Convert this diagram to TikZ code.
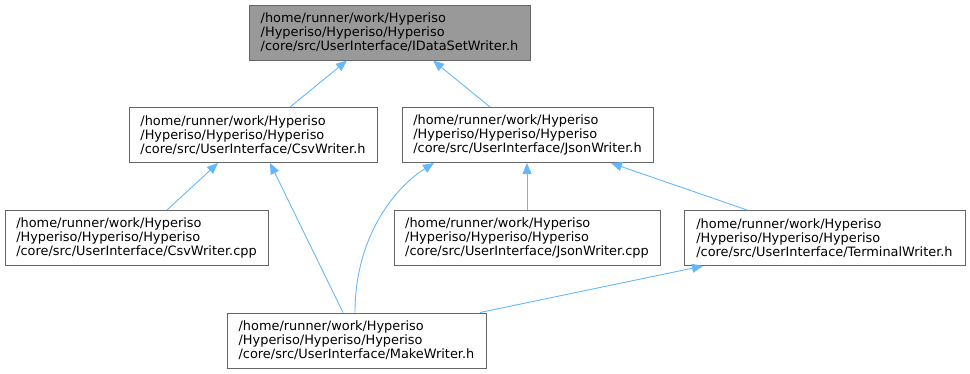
\documentclass[tikz,border=0pt]{standalone}
\usepackage{fontspec}
\setmainfont{DejaVu Sans}
\usetikzlibrary{arrows.meta}
\definecolor{edgeblue}{HTML}{63B8FF}
\definecolor{boxgrey}{HTML}{666666}
\definecolor{topfill}{HTML}{999999}
\begin{document}
\begin{tikzpicture}[x=1pt,y=-1pt,
  filebox/.style={draw=boxgrey, line width=1pt, fill=white, align=left,
    inner xsep=0pt, inner ysep=0pt, minimum height=55pt,
    font=\fontsize{12.9}{14}\selectfont},
  edge/.style={draw=edgeblue, line width=0.9pt, -{Triangle[length=11pt,width=9pt]}}]
\useasboundingbox (0,0) rectangle (970,373);

\node[filebox, fill=topfill, minimum width=281pt] (top) at (389.5,32.5)
  {/home/runner/work/Hyperiso\\/Hyperiso/Hyperiso/Hyperiso\\/core/src/UserInterface/IDataSetWriter.h};
\node[filebox, minimum width=248pt] (csvh) at (253,135)
  {/home/runner/work/Hyperiso\\/Hyperiso/Hyperiso/Hyperiso\\/core/src/UserInterface/CsvWriter.h};
\node[filebox, minimum width=251pt] (jsonh) at (527.5,135)
  {/home/runner/work/Hyperiso\\/Hyperiso/Hyperiso/Hyperiso\\/core/src/UserInterface/JsonWriter.h};
\node[filebox, minimum width=263pt] (csvcpp) at (136.5,238)
  {/home/runner/work/Hyperiso\\/Hyperiso/Hyperiso/Hyperiso\\/core/src/UserInterface/CsvWriter.cpp};
\node[filebox, minimum width=266pt] (jsoncpp) at (527,238)
  {/home/runner/work/Hyperiso\\/Hyperiso/Hyperiso/Hyperiso\\/core/src/UserInterface/JsonWriter.cpp};
\node[filebox, minimum width=281pt] (term) at (824.5,238)
  {/home/runner/work/Hyperiso\\/Hyperiso/Hyperiso/Hyperiso\\/core/src/UserInterface/TerminalWriter.h};
\node[filebox, minimum width=259pt] (make) at (356.5,340.5)
  {/home/runner/work/Hyperiso\\/Hyperiso/Hyperiso/Hyperiso\\/core/src/UserInterface/MakeWriter.h};

\draw[edge] ([xshift=37pt]csvh.north) -- ([xshift=-42.5pt]top.south);
\draw[edge] ([xshift=-37.5pt]jsonh.north) -- ([xshift=43.5pt]top.south);
\draw[edge] ([xshift=30.5pt]csvcpp.north) -- ([xshift=-35pt]csvh.south);
\draw[edge] ([xshift=-13.5pt]make.north) -- ([xshift=17pt]csvh.south);
\draw[edge] ([xshift=-1.5pt]make.north) .. controls +(0,-75) and +(-40,25) .. ([xshift=-93.5pt]jsonh.south);
\draw[edge] (jsoncpp.north) -- (jsoncpp.north |- jsonh.south);
\draw[edge] ([xshift=-77.5pt]term.north) -- ([xshift=83.5pt]jsonh.south);
\draw[edge] ([xshift=123.5pt]make.north) -- ([xshift=-121.5pt]term.south);
\end{tikzpicture}
\end{document}
